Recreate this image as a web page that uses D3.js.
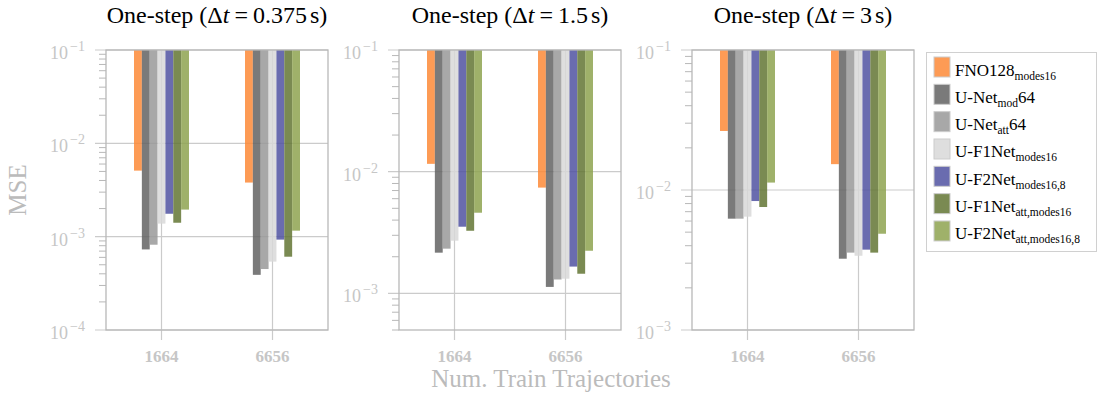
<!DOCTYPE html>
<html lang='en'>
  <head>
    <meta charset='utf-8'>
    <style>
      body { margin: 0; background: #fff; }
      svg { display: block; font-family: 'Liberation Serif', 'DejaVu Serif', serif; }
    </style>
  </head>
  <body>
    <div id='chart'></div>
    <script src='https://cdn.jsdelivr.net/npm/d3@7'></script>
    <script>
      // categories (x) and series
      var categories = ['1664', '6656'];
      var seriesBase = ['FNO128', 'U-Net', 'U-Net', 'U-F1Net', 'U-F2Net', 'U-F1Net', 'U-F2Net'];
      var seriesSub = ['modes16', 'mod', 'att', 'modes16', 'modes16,8', 'att,modes16', 'att,modes16,8'];
      var seriesTail = ['', '64', '64', '', '', '', ''];
      var colors = ['#fd8937', '#636363', '#999999', '#d8d8d8', '#5052a1', '#637634', '#8ea350'];

      // MSE values, one row per series: [1664, 6656]
      var mseDt0375 = [[5.1e-3, 3.8e-3], [7.3e-4, 3.9e-4], [8.2e-4, 4.5e-4], [1.38e-3, 5.4e-4],
                       [1.76e-3, 9.3e-4], [1.41e-3, 6.1e-4], [1.95e-3, 1.16e-3]];
      var mseDt15 = [[1.16e-2, 7.4e-3], [2.16e-3, 1.13e-3], [2.33e-3, 1.30e-3], [2.71e-3, 1.32e-3],
                     [3.53e-3, 1.66e-3], [3.27e-3, 1.45e-3], [4.6e-3, 2.24e-3]];
      var mseDt3 = [[2.64e-2, 1.53e-2], [6.24e-3, 3.23e-3], [6.24e-3, 3.57e-3], [6.45e-3, 3.39e-3],
                    [8.34e-3, 3.75e-3], [7.56e-3, 3.57e-3], [1.13e-2, 4.87e-3]];

      var titleDt = ['0.375', '1.5', '3'];
      var yDomains = [[1e-4, 1e-1], [5e-4, 1e-1], [1e-3, 1e-1]];

      var width = 1102, height = 396;
      var plotTop = 50, plotBottom = 330;
      var panelX = [[106, 328], [399, 621], [692, 914]];
      var panelData = [mseDt0375, mseDt15, mseDt3];

      var tickColor = '#c6c6c6', labelColor = '#bbbbbb', frameColor = '#b8b8b8', gridColor = '#cbcbcb';
      var serif = "'Liberation Serif', 'DejaVu Serif', serif";

      var svg = d3.select('#chart').append('svg')
          .attr('width', width)
          .attr('height', height);

      panelData.forEach(function (vals, p) {
        var x0 = panelX[p][0], x1 = panelX[p][1];
        var g = svg.append('g');

        var x = d3.scalePoint().domain(categories).range([x0, x1]).padding(0.5);
        var y = d3.scaleLog().domain(yDomains[p]).range([plotBottom, plotTop]);
        var inner = d3.scaleBand().domain(d3.range(seriesBase.length)).range([-27.5, 27.5]);

        var majors = [];
        for (var e = Math.ceil(Math.log10(yDomains[p][0]) - 1e-9); e <= -1; e++) majors.push(e);
        var minors = [];
        for (var d = Math.floor(Math.log10(yDomains[p][0]) + 1e-9); d < -1; d++) {
          for (var m = 2; m <= 9; m++) {
            var v = m * Math.pow(10, d);
            if (v >= yDomains[p][0] * 0.999 && v <= 0.1) minors.push(v);
          }
        }

        // horizontal grid + major ticks
        g.selectAll('.hgrid').data(majors).enter().append('line')
            .attr('x1', x0 - 11).attr('x2', x1)
            .attr('y1', function (e) { return y(Math.pow(10, e)); })
            .attr('y2', function (e) { return y(Math.pow(10, e)); })
            .attr('stroke', gridColor).attr('stroke-width', 1.2);

        g.selectAll('.minor').data(minors).enter().append('line')
            .attr('x1', x0 - 7).attr('x2', x0)
            .attr('y1', function (v) { return y(v); })
            .attr('y2', function (v) { return y(v); })
            .attr('stroke', frameColor).attr('stroke-width', 1);

        // vertical grid at categories + outward ticks
        g.selectAll('.vgrid').data(categories).enter().append('line')
            .attr('x1', function (c) { return x(c); })
            .attr('x2', function (c) { return x(c); })
            .attr('y1', plotTop).attr('y2', plotBottom + 10)
            .attr('stroke', gridColor).attr('stroke-width', 1.2);

        // bars hang from the top of the axis down to the value
        vals.forEach(function (row, s) {
          g.selectAll('.bar' + s).data(row).enter().append('rect')
              .attr('x', function (v, i) { return x(categories[i]) + inner(s); })
              .attr('width', inner.bandwidth())
              .attr('y', plotTop)
              .attr('height', function (v) { return y(v) - plotTop; })
              .attr('fill', colors[s])
              .attr('fill-opacity', 0.85);
        });

        // frame
        g.append('rect')
            .attr('x', x0).attr('y', plotTop)
            .attr('width', x1 - x0).attr('height', plotBottom - plotTop)
            .attr('fill', 'none').attr('stroke', frameColor).attr('stroke-width', 1.3);

        // y tick labels 10^k
        var lab = g.selectAll('.ylab').data(majors).enter().append('text')
            .attr('x', x0 - 21)
            .attr('y', function (e) { return y(Math.pow(10, e)) + 9; })
            .attr('text-anchor', 'end')
            .attr('fill', tickColor)
            .style('font-size', '18px');
        lab.append('tspan').text('10');
        lab.append('tspan').attr('dy', -8).attr('dx', 2).style('font-size', '14px')
            .text(function (e) { return '\u2212' + Math.abs(e); });

        // x tick labels
        g.selectAll('.xlab').data(categories).enter().append('text')
            .attr('x', function (c) { return x(c); })
            .attr('y', 362)
            .attr('text-anchor', 'middle')
            .attr('fill', tickColor)
            .style('font-size', '17px')
            .style('font-weight', 'bold')
            .text(function (c) { return c; });

        // title
        var t = g.append('text')
            .attr('x', (x0 + x1) / 2)
            .attr('y', 23)
            .attr('text-anchor', 'middle')
            .attr('fill', '#000')
            .style('font-family', serif)
            .style('font-size', '24px');
        t.append('tspan').text('One-step (\u0394');
        t.append('tspan').style('font-style', 'italic').text('t');
        t.append('tspan').attr('dx', 5).text('=');
        t.append('tspan').attr('dx', 5).text(titleDt[p]);
        t.append('tspan').attr('dx', 3).text('s)');
      });

      // axis labels
      svg.append('text')
          .attr('transform', 'translate(26,190) rotate(-90)')
          .attr('text-anchor', 'middle')
          .attr('fill', labelColor)
          .style('font-size', '25px')
          .text('MSE');

      svg.append('text')
          .attr('x', 551).attr('y', 387)
          .attr('text-anchor', 'middle')
          .attr('fill', labelColor)
          .style('font-size', '25px')
          .text('Num. Train Trajectories');

      // legend
      var legend = svg.append('g');
      legend.append('rect')
          .attr('x', 926.5).attr('y', 52.5)
          .attr('width', 170).attr('height', 199)
          .attr('fill', '#fff').attr('stroke', '#d0d0d0').attr('stroke-width', 1);

      var rows = legend.selectAll('.row').data(seriesBase).enter().append('g')
          .attr('transform', function (d, i) { return 'translate(934,' + (57 + i * 27.33) + ')'; });
      rows.append('rect')
          .attr('width', 16).attr('height', 20)
          .attr('fill', function (d, i) { return colors[i]; })
          .attr('fill-opacity', 0.85)
          .attr('stroke', '#cccccc').attr('stroke-width', 1);
      var lt = rows.append('text')
          .attr('x', 21).attr('y', 18.5)
          .attr('fill', '#000')
          .style('font-size', '17px');
      lt.append('tspan').text(function (d) { return d; });
      lt.append('tspan').attr('dy', 4).style('font-size', '11.5px')
          .text(function (d, i) { return seriesSub[i]; });
      lt.append('tspan').attr('dy', -4)
          .text(function (d, i) { return seriesTail[i]; });
    </script>
  </body>
</html>
